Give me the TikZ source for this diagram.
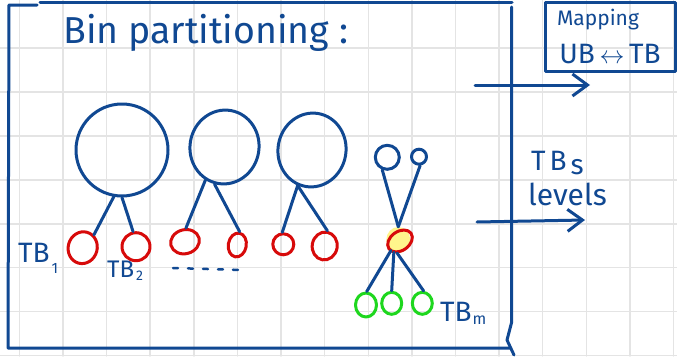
\documentclass[tikz,border=0pt]{standalone}
\usepackage{fontspec}
\setmainfont{Fira Sans}
\usetikzlibrary{shapes.geometric,arrows.meta}
\definecolor{ink}{RGB}{16,72,146}
\definecolor{redink}{RGB}{215,10,10}
\definecolor{greenink}{RGB}{30,215,30}
\definecolor{hl}{RGB}{255,245,140}
\definecolor{gridc}{RGB}{228,228,228}
\begin{document}
\begin{tikzpicture}[x=1pt,y=-1pt,line cap=round,line join=round,
  inkline/.style={draw=ink,line width=3pt},
  conn/.style={draw=ink,line width=3pt},
  bub/.style={ellipse,draw=ink,line width=3pt,inner sep=0pt},
  rbub/.style={ellipse,draw=redink,line width=3pt,inner sep=0pt},
  gbub/.style={ellipse,draw=greenink,line width=3pt,inner sep=0pt},
  lbl/.style={text=ink,inner sep=0pt},
  arr/.style={draw=ink,line width=3pt,-{Straight Barb[length=15pt,width=22pt]}}]
\useasboundingbox (0,0) rectangle (677,356);
\fill[white] (0,0) rectangle (677,356);
% grid
\foreach \k in {0,...,15} \draw[gridc,line width=1.5pt] ({19.4+43.61*\k},0) -- ({19.4+43.61*\k},356);
\foreach \k in {1,...,8} \draw[gridc,line width=1.5pt] (0,{4.3+43.9*\k}) -- (677,{4.3+43.9*\k});
% frame
\draw[inkline] (37,5) -- (9,5) -- (8,348) -- (510,348);
\draw[inkline] (40,2) -- (512,2);
\draw[inkline] (511.7,7) -- (511.7,322) -- (507,340) -- (514,355);
% title
\node[lbl,font=\fontsize{37.5}{42}\selectfont,anchor=base west] (title) at (63,43) {Bin partitioning :};
% big circles
\node[bub,minimum width=92pt,minimum height=92pt] (c1) at (122,150) {};
\node[bub,minimum width=69pt,minimum height=74pt,rotate=-10] (c2) at (224.5,147) {};
\node[bub,minimum width=68pt,minimum height=74pt,rotate=-10] (c3) at (312,150) {};
% red circles
\node[rbub,minimum width=29pt,minimum height=32pt,rotate=-15] (r1) at (82.7,247.7) {};
\node[rbub,minimum width=28pt,minimum height=28pt] (r2) at (136,246.7) {};
\node[rbub,minimum width=29pt,minimum height=24pt,rotate=15] (r3) at (185,241.7) {};
\node[rbub,minimum width=18pt,minimum height=24pt,rotate=-10] (r4) at (237.3,245) {};
\node[rbub,minimum width=21pt,minimum height=21pt] (r5) at (283.3,244.3) {};
\node[rbub,minimum width=25pt,minimum height=28pt,rotate=-10] (r6) at (324.7,246) {};
% small blue circles
\node[bub,minimum width=24pt,minimum height=24pt] (s1) at (387.3,157.3) {};
\node[bub,minimum width=15pt,minimum height=15pt] (s2) at (419,156.7) {};
% hub
\node[ellipse,fill=hl,inner sep=0pt,minimum width=24pt,minimum height=26pt] (hub) at (398.3,240) {};
\node[rbub,minimum width=27pt,minimum height=19pt,rotate=35] (hubring) at (400,241) {};
% green circles
\node[gbub,minimum width=21pt,minimum height=24pt] (g1) at (366,305) {};
\node[gbub,minimum width=20pt,minimum height=22pt] (g2) at (391.7,303.3) {};
\node[gbub,minimum width=20pt,minimum height=22pt] (g3) at (422.3,303.3) {};
% connectors
\draw[conn] (c1.260) -- (r1.64);
\draw[conn] (c1.270) -- (r2.101);
\draw[conn] (c2.250) -- (r3.71);
\draw[conn] (c2.265) -- (r4.90);
\draw[conn] (c3.258) -- (r5.95);
\draw[conn] (c3.258) -- (r6.90);
\draw[conn] (s1.248) -- (hub.north);
\draw[conn] (s2.277) -- (hub.north);
\draw[conn] (hub.235) -- (g1.87);
\draw[conn] (hub.250) -- (g2.90);
\draw[conn] (hub.265) -- (g3.84);
% labels
\node[lbl,font=\fontsize{28}{30}\selectfont,anchor=base west] (tb1) at (18,262) {TB\kern2pt\raisebox{-11pt}{\fontsize{15}{15}\selectfont 1}};
\node[lbl,font=\fontsize{24}{26}\selectfont,anchor=base west] (tb2) at (107,277) {TB\kern2pt\raisebox{-3pt}{\fontsize{14}{14}\selectfont 2}};
\node[lbl,font=\fontsize{28}{30}\selectfont,anchor=base west] (tbm) at (440,321.7) {TB\kern1pt\raisebox{-3pt}{\fontsize{16}{16}\selectfont m}};
\coordinate (d1) at (173,268);
\coordinate (d2) at (242,270);
\draw[draw=ink,line width=2.5pt,dash pattern=on 5pt off 10pt] (d1) -- (d2);
% mapping box
\node[draw=ink,line width=3pt,inner sep=0pt,minimum width=130.7pt,minimum height=69pt] (mapbox) at (610.35,37.2) {};
\node[lbl,font=\fontsize{21}{24}\selectfont,anchor=base] (map1) at (598,25) {Mapping};
\node[lbl,font=\fontsize{28}{30}\selectfont,anchor=base] (map2) at (610,63) {UB\,$\leftrightarrow$\,TB};
% right arrows and labels
\coordinate (a1s) at (475,85);
\coordinate (a1e) at (590,85);
\draw[arr] (a1s) -- (a1e);
\coordinate (a2s) at (477,222);
\coordinate (a2e) at (585,220);
\draw[arr] (a2s) -- (a2e);
\node[lbl,font=\fontsize{28}{30}\selectfont,anchor=base west] (tbs) at (531,170) {T\kern4pt B\kern4pt\raisebox{-4pt}{\fontsize{28}{28}\selectfont s}};
\node[lbl,font=\fontsize{30}{32}\selectfont,anchor=base west] (lev) at (528,205) {levels};
\end{tikzpicture}
\end{document}
